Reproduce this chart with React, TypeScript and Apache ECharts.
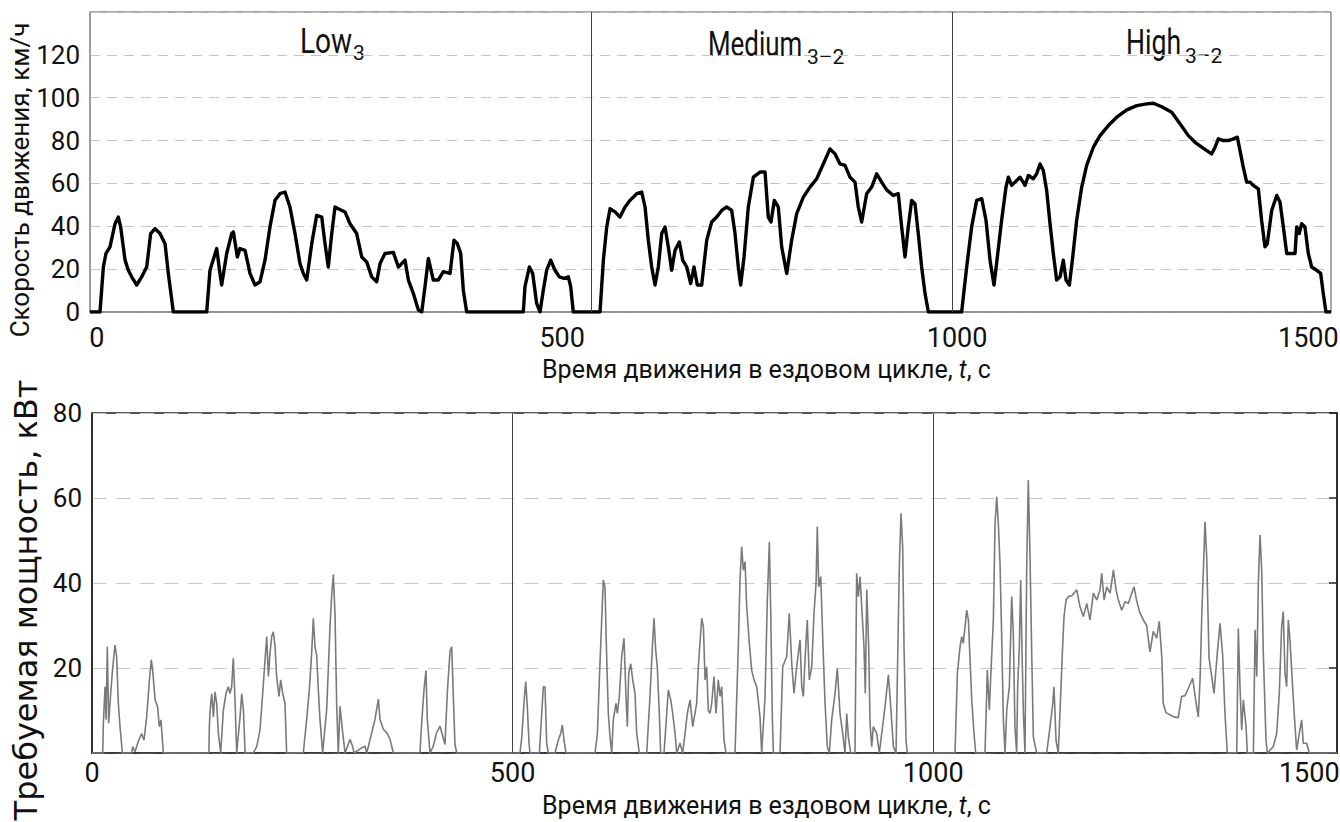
import React, { useEffect, useRef } from 'react';
import * as echarts from 'echarts';

// ---------- data ----------
const xTickLabels = ['0', '500', '1000', '1500'];
const topTickPos = [8, 562, 1032, 1450];
const bottomTickPos = [0, 500, 1000, 1447];
const topPhaseBounds = [597, 1026];
const bottomPhaseBounds = [500, 1000];
const phaseNames = ['Low', 'Medium', 'High'];
const phaseSubs = ['3', '3–2', '3–2'];

const speedData: [number, number][] = [
  [0,0],[11.9,0],[15.9,21],[19,27.3],[23.8,30.4],[29.8,41.2],[33.7,44.3],[36.5,39.7],[41.7,24.2],[45.6,19.5],[49.6,16.4],[55.6,12.6],[61.5,16.4],[67.5,21],[72.2,36.6],[77.4,38.9],[83.3,36.6],[89.3,31.9],[93.2,18],[99.2,0],
  [138.9,0],[142.8,19.5],[150.8,29.6],[154.7,18],[156.7,12.6],[162.7,27.3],[168.6,36.6],[170.6,37.4],[175.4,25.7],[178.5,29.6],[184.5,28.8],[190.4,18],[196.4,12.6],[202.3,14.1],[208.3,24.2],[214.2,39.7],[220.2,52.1],[226.1,55.2],[232.1,56],[238,49],[244,36.6],[249.9,22.6],[253.9,18],[257.9,14.9],[263.9,31.9],[269.8,45.1],[275.8,44.3],[279.7,31.9],[283.6,21],[287.7,36.6],[291.6,49],[295.5,48.2],[303.5,46.7],[309.5,41.2],[317.4,36.6],[323.4,25.7],[329.3,23.4],[335.3,16.4],[341.2,14.1],[345.2,22.6],[351.1,27.3],[361,27.8],[367,21],[371,22.6],[374.9,24.2],[378.9,14.9],[384.8,8.7],[390.8,0.9],[394.8,0],[398.7,11.8],[402.7,25],[408.6,14.9],[414.5,14.9],[420.5,18.8],[428.5,18],[433.2,33.5],[437.2,31.9],[441.2,27.3],[444.3,10.2],[448.3,0],
  [515.7,0],[517.7,11.8],[522.9,21],[526.9,18],[531.6,4],[535.6,0],[539.5,10.2],[543.5,19.5],[548.3,24.2],[553.4,19.5],[558.6,16.4],[564.2,15.7],[569.3,16.4],[572.1,11.8],[575.2,0],
  [607,0],[611,24.2],[615,39.7],[618.9,48.2],[624.9,46.7],[630.8,44.3],[636.8,49],[642.7,52.1],[650.7,55.2],[656.6,56],[660.6,49],[664.5,33.5],[668.5,21],[672.5,12.6],[676.4,21],[680.4,36.6],[684.4,39.7],[688.3,30.4],[692.3,19.5],[696.3,28.8],[701.4,32.7],[705.4,24.2],[710.2,21],[714.9,13.3],[718.9,21],[722.8,12.6],[728,12.6],[734,33.5],[739.9,42],[745.9,44.3],[751.8,47.4],[757.8,49],[763.7,47.4],[767.7,36.6],[771.6,21],[774.4,12.6],[778.4,25.7],[783.5,49],[789.5,62.9],[797.4,65.3],[803.4,65.3],[807.3,44.3],[810.5,42],[814.5,52.1],[819.2,49],[823.2,30.4],[829.2,18],[835.1,33.5],[841.1,45.9],[849,53.6],[856.9,58.3],[864.9,62.2],[872.8,69.1],[880.7,76.1],[886.7,73.8],[892.6,69.1],[898.6,68.4],[904.5,62.9],[910.5,60.6],[914.4,49],[918.4,42],[924.4,55.2],[930.3,58.3],[936.3,64.5],[942.2,60.6],[948.2,57],[956.1,54.4],[962,55.2],[966,39.7],[970,25.7],[973.9,39.7],[977.9,52.1],[981.9,50.5],[985.8,36.6],[989.8,21],[993.8,8.7],[997.8,0],
  [1037.4,0],[1043.4,21],[1049.3,39.7],[1055.3,52.1],[1061.3,52.9],[1066.4,42.8],[1071.2,24.2],[1075.9,12.6],[1079.9,25.7],[1085,42.8],[1090.2,58.3],[1093,62.9],[1097,59.1],[1100.9,60.6],[1106.9,62.9],[1112.8,59.1],[1116.8,63.7],[1122.7,62.2],[1126.7,64.5],[1130.7,69.1],[1134.6,66],[1138.6,56.7],[1142.6,41.2],[1146.5,27.3],[1150.5,14.9],[1154.5,16.4],[1158.4,24.2],[1161.6,14.9],[1165.6,12.6],[1169.6,25.7],[1174.3,42.8],[1180.3,58.3],[1186.2,68.4],[1194.2,76.9],[1202.1,82.3],[1212,87],[1222,90.9],[1233.9,94.3],[1245.8,96.3],[1257.7,97.1],[1265.6,97.4],[1275.5,95.8],[1287.4,93.2],[1297.3,87.8],[1307.2,82.3],[1315.2,79.2],[1323.1,76.9],[1329.1,75.3],[1335,73.8],[1339,76.9],[1342.9,80.8],[1348.9,80],[1354.8,80],[1360.8,80.8],[1365.5,81.6],[1368.7,75.3],[1372.6,67.6],[1376.6,60.6],[1380.6,60.6],[1384.5,59.1],[1390.5,57.5],[1394.4,42.8],[1398.4,30.4],[1401.2,31.9],[1406.4,47.4],[1412.4,54.4],[1416.3,51.3],[1420.3,39.7],[1424.3,27.3],[1428.2,27.3],[1434.2,27.3],[1436.2,39.7],[1439.2,36.6],[1442.1,41.2],[1446,39.7],[1450,27.3],[1454,21],[1459.9,19.5],[1464.7,18],[1467.8,8.7],[1471,0],[1477,0]
];

const powerData: [number, number][] = [
  [0,0],[12.7,0],[13.5,7],[15.5,15.6],[16.7,7.8],[18.2,25],[19.8,7],[22.2,14],[24.4,19.5],[27.3,25.4],[29.3,22.7],[31.3,11.7],[33.3,6.2],[36.1,0],
  [47.2,0],[48.3,1.5],[51.1,0.3],[55,2.7],[59,4.6],[61.8,3],[65,8.5],[68.2,17],[70.5,21.9],[72.1,19.5],[75,12.5],[78,10.9],[80,6.2],[82,7.8],[84.8,0],
  [139,0],[139.5,6.2],[140.3,9.7],[142.3,14],[144.3,8.5],[146.2,14.4],[148.2,11.7],[150.2,4.6],[153,0],[156.1,10],[159.3,14],[162,15.6],[164,14],[166,15.6],[168,22.3],[170,12.5],[172,0],[176,8.5],[178,14],[180,10],[182,0],
  [191.8,0],[195.8,1.5],[199.7,5.4],[202.9,14],[205.7,21.9],[207.7,27.4],[209.7,18],[211.6,23.5],[213.6,27.4],[215.6,28.5],[217.6,25],[219.5,18],[222.3,13.3],[224.3,17.2],[226.7,14],[229.4,11.7],[231.4,0],
  [251.2,0],[255.2,7.9],[258.4,15],[261.2,23.8],[263.1,31.7],[265.1,25],[267.1,23],[269,15],[271,7.9],[274.2,0],[279,10.3],[283,30],[285,37.3],[286.9,42],[288.9,32.5],[290.9,11],[292.8,0],[294.8,11],[298,4.8],[300.8,0],[306.7,3.2],[309.9,1.5],[311.5,0],[320.6,1.2],[324.5,1.6],[326.6,0],[336.4,7.9],[340.4,12.7],[342.4,7.9],[346.3,5.6],[350.3,4.8],[354.3,3.2],[358.2,0],
  [389.9,0],[391.9,7.1],[394.7,15],[397,19.4],[398.6,7.9],[401.8,0],[405.7,1.6],[409.7,4.8],[413.7,6.3],[416.9,4],[419.6,2],[422.4,14.3],[425.6,24],[427.6,25],[429.5,13.3],[431.5,2],[433.6,0],
  [508.8,0],[510.8,3.5],[513.6,12],[515.6,16.8],[517.5,10.9],[519.5,2.3],[520.7,0],
  [531.8,0],[534.6,9.3],[536.5,15.6],[538.5,15.6],[540.5,2.3],[542.4,0],
  [550.4,0],[554.3,3],[557.2,4.6],[559.1,6.6],[561.1,3],[563.5,0],
  [598,0],[600.8,4.6],[603.1,17.2],[605.9,31.3],[607.8,40.7],[609.8,39.1],[611.8,22.7],[613.8,9.3],[615.8,3.8],[617.8,0],
  [619.7,7.8],[622.9,11.7],[624.5,9.3],[626.9,13.3],[629.7,22.7],[632.4,27],[634.8,13.3],[636.4,6.2],[638,18.7],[640.4,21],[642.8,17.2],[645.5,14],[647.5,4.6],[650.6,0],
  [659.4,0],[663.3,13.3],[666.5,26.2],[668.1,31.7],[670.1,24.2],[672,20.3],[674.4,9.3],[676,0],
  [680,0],[683.2,9.3],[685.1,14.8],[688,12.5],[690.3,9.3],[693.1,4.6],[695.1,0],[699,2.3],[702.2,0],[705,4.6],[707.7,9.3],[710.9,12.5],[714.1,6.2],[718.8,11.7],[720.8,20.3],[724.8,31.7],[726.8,29.7],[728.8,17.2],[730.7,20.3],[732.7,10],[734.7,9.3],[736.7,11.7],[739.4,18],[741.8,9.3],[744.5,17.2],[746.6,13.3],[748.6,15.6],[751.3,3],[753.7,0],
  [764.4,0],[768.3,25],[770.3,40.7],[772.3,48.5],[774.3,43],[776.3,45],[778.3,34.4],[781.4,25.8],[784.2,19.5],[787,17.2],[790.2,15.6],[794.1,8.5],[796.1,0],
  [800.1,13.3],[802.8,36],[805.2,49.7],[806.8,33.6],[808.8,8],[810,0],
  [817.9,0],[821.1,20.3],[825.8,22.7],[828.9,32.9],[831.8,21.1],[834.5,14],[837.7,20.3],[841.7,26.6],[843.7,15.6],[845.6,13.3],[847.6,21.9],[850.3,31.3],[852.7,17.2],[855.6,20.3],[858.3,32.9],[860.7,39.9],[862.2,53.3],[863.9,39.1],[866.3,41.5],[868.6,27.4],[871.4,11.7],[874.1,1.5],[876.5,0],
  [879.3,7.8],[883.3,14],[886,19.9],[889.2,9.3],[892.4,4.6],[895.1,0],[897.2,9.3],[899.1,3.8],[901.9,0],
  [907,0],[909,42.3],[911,36.8],[913,41.5],[915,34.4],[917.7,25],[919.3,14],[921,38.4],[923.3,25],[924.9,6.9],[926.9,1.5],[928.8,6.2],[932.8,4.6],[935.9,0],
  [938.8,4.6],[942.7,10.9],[946.7,18.4],[949.5,10.9],[952.6,1.5],[955.8,0],
  [957.3,17.2],[959.7,43.8],[961.7,56.4],[963.7,48.5],[965.3,25],[967.7,3],[969.2,0],
  [1025.9,0],[1028.7,18.7],[1031.9,25],[1033.9,27.4],[1035.8,25.8],[1037.8,29.7],[1039.8,33.6],[1041.8,31.3],[1043.8,21.9],[1045.8,12.5],[1048.5,4.6],[1050.5,0],
  [1061.6,0],[1064.3,19.5],[1066.7,10.1],[1068.7,19.5],[1071.5,31.3],[1073.5,54],[1075.5,60.3],[1077.4,54],[1079.4,44.6],[1081.4,27.4],[1083.4,7.8],[1085.4,0],
  [1087.4,10.1],[1090.5,15.6],[1093.3,36.8],[1095.2,28.2],[1097.2,6],[1099.2,0],[1100.4,15.6],[1102.4,25],[1104,40.7],[1105.6,23.5],[1107.1,10.1],[1109.1,0],[1111.1,43.1],[1113,64.2],[1115,47],[1117.1,23.5],[1119,3.8],[1123,0],
  [1134.9,0],[1138.9,6.2],[1142.1,11.7],[1143.6,15.6],[1146,3],[1148.7,0],
  [1151.6,14],[1153.5,23.5],[1155.5,32.1],[1157.9,36],[1160.6,36.8],[1164.7,37],[1170.6,38.4],[1174.5,34.4],[1178.5,32.1],[1182.5,35.2],[1186.4,31.3],[1190.4,37.6],[1194.4,36],[1198.3,38.4],[1200.3,42.3],[1203.1,36],[1206.3,39.1],[1210.3,37.6],[1214.2,43.1],[1217.4,38.4],[1220.1,36],[1224.1,33.6],[1228,35.6],[1232,35.2],[1236,37.6],[1238.7,39.1],[1241.9,35.8],[1245.8,32.9],[1249.8,31.3],[1253.7,30],[1257.7,23.8],[1261.6,28.6],[1265.6,27],[1268.7,31],[1271.9,22],[1273.4,11.7],[1276.7,9.5],[1281.5,9],[1286.2,8.5],[1291.3,8.3],[1295.3,13.3],[1299.3,13.5],[1302.8,15],[1308.4,17.6],[1312.3,12],[1315.1,8.5],[1317.2,17.2],[1319.2,32],[1323.1,54.4],[1325.1,46.2],[1327.9,22.3],[1331.1,18],[1333.8,14],[1337.7,23.5],[1340.9,30.5],[1344.1,23],[1346.9,9],[1349.6,0],
  [1360.8,0],[1362.7,29.3],[1364.7,15.6],[1366.7,5.4],[1368.7,12.5],[1371.9,6.2],[1373.4,0],
  [1380.6,0],[1382.6,29],[1384.6,18],[1386.5,40],[1388.5,51.3],[1390.5,43],[1392.4,23.5],[1395.6,3],[1397.2,0],
  [1404.3,1.5],[1408.3,4.6],[1411.4,14],[1414.2,29.7],[1416.1,33.3],[1418.2,18.7],[1420.2,15.6],[1422.1,31.3],[1424.1,26.6],[1426.1,19.5],[1428.9,10],[1432,0.7],[1435.2,4.6],[1438,7.8],[1439.9,2.3],[1443.9,2.3],[1447,0],[1480,0]
];

// ---------- chart ----------
const F = "Roboto, 'Liberation Sans', sans-serif";
const TXT = '#111';

export default function App() {
  const ref = useRef<HTMLDivElement>(null);
  useEffect(() => {
    if (!ref.current) return;
    const chart = echarts.init(ref.current, undefined, { renderer: 'svg' });
    const xName = '{a|Время движения в ездовом цикле, }{b|t}{a|, с}';
    const nameRich = {
      a: { fontFamily: F, fontSize: 25, color: TXT },
      b: { fontFamily: F, fontSize: 25, color: TXT, fontStyle: 'italic' },
    };
    const phaseLabelPos = [
      { x: 300, y: 41, sx: 353, sy: 53, k: 0.78 },
      { x: 708, y: 44, sx: 807, sy: 57, k: 0.72 },
      { x: 1126, y: 42, sx: 1185, sy: 56, k: 0.74 },
    ];
    const graphics: any[] = [];
    phaseNames.forEach((n, i) => {
      const p = phaseLabelPos[i];
      graphics.push({
        type: 'text', x: p.x, y: p.y, scaleX: p.k,
        style: { text: n, fontFamily: F, fontSize: 36, fill: TXT, align: 'left', verticalAlign: 'middle' },
      });
      graphics.push({
        type: 'text', x: p.sx, y: p.sy,
        style: { text: phaseSubs[i], fontFamily: F, fontSize: 21, fill: TXT, align: 'left', verticalAlign: 'middle' },
      });
    });

    chart.setOption({
      animation: false,
      backgroundColor: '#fff',
      graphic: graphics,
      grid: [
        { left: 90, top: 12, width: 1241, height: 300, show: true, borderColor: '#555', borderWidth: 1, outerBoundsMode: 'none', containLabel: false },
        { left: 92, top: 413, width: 1245, height: 340, show: true, borderColor: '#222', borderWidth: 1.5, outerBoundsMode: 'none', containLabel: false },
      ],
      xAxis: [
        {
          type: 'value', gridIndex: 0, min: 0, max: 1477,
          axisLine: { show: true, lineStyle: { color: '#888', width: 1.5 } },
          axisTick: { show: false },
          splitLine: { show: false },
          axisLabel: {
            customValues: topTickPos,
            formatter: (v: number) => xTickLabels[topTickPos.indexOf(v)] ?? '',
            fontFamily: F, fontSize: 27, color: TXT, margin: 12,
          },
          name: xName, nameLocation: 'middle', nameGap: 45, nameMoveOverlap: false,
          nameTextStyle: { rich: nameRich, padding: [0, 0, 0, 112] },
        },
        {
          type: 'value', gridIndex: 1, min: 0, max: 1480,
          axisLine: { show: true, lineStyle: { color: '#333', width: 1.5 } },
          axisTick: { show: false },
          splitLine: { show: false },
          axisLabel: {
            customValues: bottomTickPos,
            formatter: (v: number) => xTickLabels[bottomTickPos.indexOf(v)] ?? '',
            fontFamily: F, fontSize: 27, color: TXT, margin: 6,
          },
          name: xName, nameLocation: 'middle', nameGap: 40, nameMoveOverlap: false,
          nameTextStyle: { rich: nameRich, padding: [0, 0, 0, 104] },
        },
      ],
      yAxis: [
        {
          type: 'value', gridIndex: 0, min: 0, max: 140, interval: 20,
          axisLine: { show: true, lineStyle: { color: '#999', width: 1.5 } },
          axisTick: { show: false },
          axisLabel: { fontFamily: F, fontSize: 26, color: TXT, margin: 10, showMaxLabel: false },
          splitLine: { show: true, lineStyle: { color: '#c4c4c4', type: [10, 7], width: 1 } },
          name: 'Скорость движения, км/ч', nameLocation: 'middle', nameGap: 57, nameRotate: 90, nameMoveOverlap: false,
          nameTextStyle: { fontFamily: F, fontSize: 26, color: TXT, padding: [0, 36, 0, 0] },
        },
        {
          type: 'value', gridIndex: 1, min: 0, max: 80, interval: 20,
          axisLine: { show: true, lineStyle: { color: '#222', width: 1.5 } },
          axisTick: { show: false },
          axisLabel: { fontFamily: F, fontSize: 26, color: TXT, margin: 10, showMinLabel: false },
          splitLine: { show: true, lineStyle: { color: '#c8c8c8', type: [14, 10], width: 1 } },
          name: 'Требуемая мощность, кВт', nameLocation: 'middle', nameGap: 50, nameRotate: 90, nameMoveOverlap: false,
          nameTextStyle: { fontFamily: "'DejaVu Sans', sans-serif", fontSize: 32, color: TXT, padding: [0, 34, 0, 0] },
        },
        {
          type: 'value', gridIndex: 1, min: 0, max: 80, interval: 20, position: 'right',
          axisLine: { show: true, lineStyle: { color: '#222', width: 1.5 } },
          axisTick: { show: true, inside: true, length: 8, lineStyle: { color: '#222', width: 1.5 } },
          axisLabel: { show: false },
          splitLine: { show: false },
        },
      ],
      series: [
        {
          type: 'line', xAxisIndex: 0, yAxisIndex: 0, data: speedData,
          showSymbol: false, symbol: 'none',
          lineStyle: { color: '#000', width: 3.4, join: 'round' },
          markLine: {
            silent: true, symbol: ['none', 'none'], label: { show: false },
            lineStyle: { color: '#444', width: 1, type: 'solid' },
            data: topPhaseBounds.map((x) => ({ xAxis: x })),
          },
        },
        {
          type: 'line', xAxisIndex: 1, yAxisIndex: 1, data: powerData,
          showSymbol: false, symbol: 'none',
          lineStyle: { color: '#7a7a7a', width: 1.6 },
          markLine: {
            silent: true, symbol: ['none', 'none'], label: { show: false },
            lineStyle: { color: '#444', width: 1, type: 'solid' },
            data: bottomPhaseBounds.map((x) => ({ xAxis: x })),
          },
        },
      ],
    });
    return () => chart.dispose();
  }, []);
  return <div ref={ref} style={{ position: 'fixed', left: 0, top: 0, width: 1340, height: 822, background: '#fff' }} />;
}
